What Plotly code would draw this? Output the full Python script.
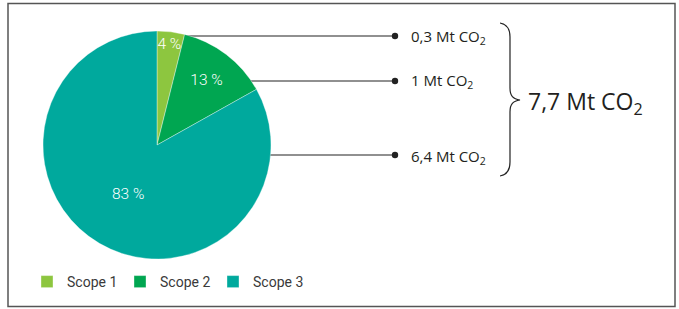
import plotly.graph_objects as go

W, H = 679, 309

# ---- data ----
categories = ["Scope 1", "Scope 2", "Scope 3"]
emissions_mt = [0.3, 1.0, 6.4]
pct_labels = ["4 %", "13 %", "83 %"]
value_labels = ["0,3 Mt CO<sub>2</sub>", "1 Mt CO<sub>2</sub>", "6,4 Mt CO<sub>2</sub>"]
total_label = "7,7 Mt CO<sub>2</sub>"
colors = ["#8DC63F", "#00A651", "#00A99D"]

def px(x):
    return x / W

def py(y):
    return 1 - y / H

# pie geometry (pixels)
cx, cy, r = 157, 145, 114

fig = go.Figure()
fig.add_trace(go.Pie(
    labels=categories,
    values=emissions_mt,
    text=pct_labels,
    textinfo="text",
    textposition="inside",
    insidetextorientation="horizontal",
    textfont=dict(family="Roboto", size=15.5, color="white", weight=300),
    marker=dict(colors=colors, line=dict(color="rgba(255,255,255,0.6)", width=0.6)),
    sort=False,
    direction="clockwise",
    rotation=0,
    hole=0,
    domain=dict(x=[px(cx - r), px(cx + r)], y=[py(cy + r), py(cy - r)]),
    showlegend=True,
))

shapes = []
# border
shapes.append(dict(type="rect", xref="paper", yref="paper",
                   x0=px(8), x1=px(675), y0=py(306.5), y1=py(3.5),
                   line=dict(color="#555555", width=1.5)))

# leader lines and dots
line_ys = [36, 81, 155]
dot_x = 395
for i, ly in enumerate(line_ys):
    shapes.append(dict(type="line", xref="paper", yref="paper", layer="below",
                       x0=px(cx), x1=px(dot_x), y0=py(ly), y1=py(ly),
                       line=dict(color="#222222", width=1.2)))
    shapes.append(dict(type="circle", xref="paper", yref="paper",
                       x0=px(dot_x - 3.2), x1=px(dot_x + 3.2),
                       y0=py(ly + 3.2), y1=py(ly - 3.2),
                       fillcolor="#222222", line=dict(width=0)))

# curly brace
bx, top, bot, tipy, tipx = 500, 23, 176, 100, 520
def P(x, y):
    return f"{px(x):.5f},{py(y):.5f}"
path = (f"M {P(bx, top)} "
        f"C {P(bx+6, top+1)} {P(bx+10, top+5)} {P(bx+10, top+14)} "
        f"L {P(bx+10, tipy-12)} "
        f"C {P(bx+10, tipy-4)} {P(bx+13, tipy-1)} {P(tipx, tipy)} "
        f"C {P(bx+13, tipy+1)} {P(bx+10, tipy+4)} {P(bx+10, tipy+12)} "
        f"L {P(bx+10, bot-14)} "
        f"C {P(bx+10, bot-5)} {P(bx+6, bot-1)} {P(bx, bot)}")
shapes.append(dict(type="path", xref="paper", yref="paper", path=path,
                   line=dict(color="#222222", width=1.2)))

annotations = []
label_ys = [37, 81, 157]
for lab, ly in zip(value_labels, label_ys):
    annotations.append(dict(xref="paper", yref="paper", x=px(409), y=py(ly),
                            xanchor="left", yanchor="middle", showarrow=False,
                            text=lab, font=dict(family="Open Sans", size=15, color="#231F20")))
annotations.append(dict(xref="paper", yref="paper", x=px(526), y=py(102),
                        xanchor="left", yanchor="middle", showarrow=False,
                        text=total_label, font=dict(family="Open Sans", size=23, color="#231F20")))

fig.update_layout(
    width=W, height=H,
    margin=dict(l=0, r=0, t=0, b=0),
    paper_bgcolor="white",
    plot_bgcolor="white",
    shapes=shapes,
    annotations=annotations,
    showlegend=True,
    legend=dict(orientation="h", x=px(27), y=py(282), xanchor="left", yanchor="middle",
                font=dict(family="Roboto", size=14, color="#3a3a3a"),
                itemwidth=30, entrywidth=48, entrywidthmode="pixels",
                bgcolor="rgba(0,0,0,0)"),
    uniformtext=dict(minsize=15.5, mode="show"),
)

fig.write_html("out.html", config={"displayModeBar": False},
               post_script="document.body.style.margin='0';document.body.style.overflow='hidden';")
